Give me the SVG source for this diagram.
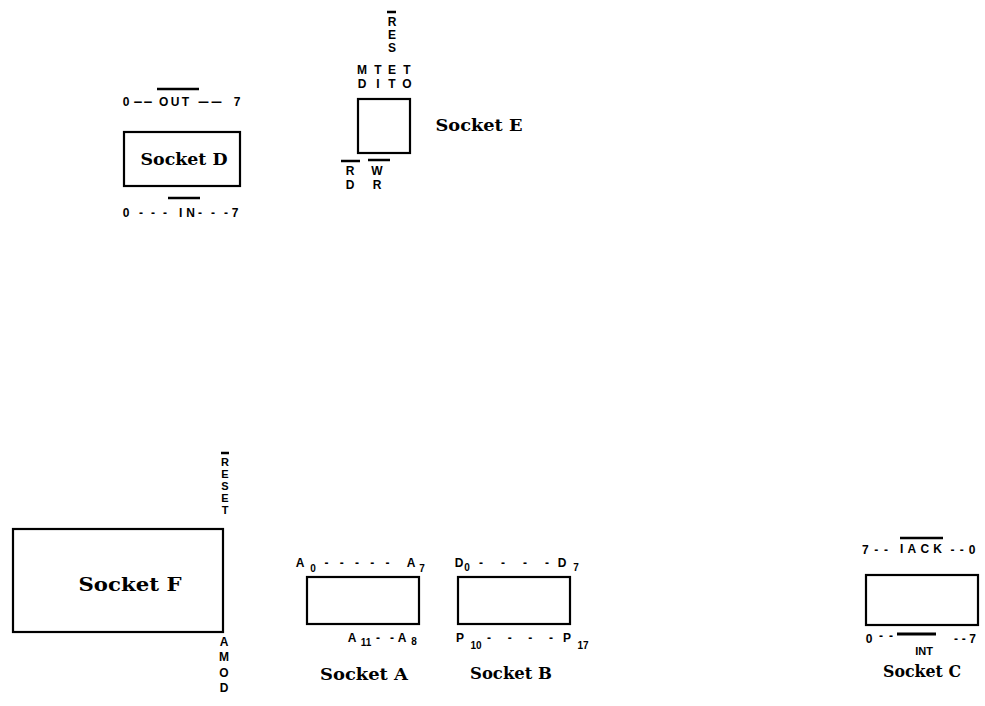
<svg xmlns="http://www.w3.org/2000/svg" width="985" height="706" viewBox="0 0 985 706">
<style>
.box{fill:#fff;stroke:#000;stroke-width:2.2}
.lbl{font-family:"DejaVu Serif","Liberation Serif",serif;font-weight:bold;font-size:17px;text-anchor:middle}
.sig{font-family:"Liberation Sans",Arial,sans-serif;font-weight:bold;font-size:12px;text-anchor:middle}
.sm{font-size:11px}
.sub{font-size:10px}
.bar{stroke:#000;stroke-width:2.5;fill:none}
</style>
<rect width="985" height="706" fill="#fff"/>
<g id="connectors"></g>

<g id="socketD">
<rect class="box" x="124" y="132" width="116" height="54"/>
<text class="lbl" x="184" y="165" textLength="87" lengthAdjust="spacingAndGlyphs">Socket D</text>
<text class="sig" x="126" y="106">0</text>
<text class="sig" x="143" y="106" textLength="20" lengthAdjust="spacingAndGlyphs">--</text>
<text class="sig" x="174" y="106" textLength="30" lengthAdjust="spacing">OUT</text>
<text class="sig" x="210" y="106" textLength="26" lengthAdjust="spacingAndGlyphs">--</text>
<text class="sig" x="237" y="106">7</text>
<line class="bar" x1="157" y1="89" x2="199" y2="89"/>
<text class="sig" x="126" y="217">0</text>
<text class="sig" x="153" y="217" textLength="28" lengthAdjust="spacing">---</text>
<text class="sig" x="187" y="217" textLength="16" lengthAdjust="spacing">IN</text>
<text class="sig" x="213" y="217" textLength="30" lengthAdjust="spacing">---</text>
<text class="sig" x="235" y="217">7</text>
<line class="bar" x1="168" y1="198" x2="200" y2="198"/>
</g>

<g id="socketE">
<rect class="box" x="358" y="99" width="52" height="54"/>
<text class="lbl" x="479" y="131" textLength="87" lengthAdjust="spacingAndGlyphs">Socket E</text>
<line class="bar" x1="387" y1="12" x2="396" y2="12"/>
<text class="sig" x="392" y="26">R</text>
<text class="sig" x="392" y="39">E</text>
<text class="sig" x="392" y="52">S</text>
<text class="sig" x="362" y="74">M</text>
<text class="sig" x="378" y="74">T</text>
<text class="sig" x="392" y="74">E</text>
<text class="sig" x="407" y="74">T</text>
<text class="sig" x="362" y="88">D</text>
<text class="sig" x="378" y="88">I</text>
<text class="sig" x="392" y="88">T</text>
<text class="sig" x="407" y="88">O</text>
<line class="bar" x1="341" y1="161" x2="360" y2="161"/>
<text class="sig" x="350" y="175">R</text>
<text class="sig" x="350" y="189">D</text>
<line class="bar" x1="368" y1="160" x2="390" y2="160"/>
<text class="sig" x="377" y="175">W</text>
<text class="sig" x="377" y="189">R</text>
</g>

<g id="socketF">
<rect class="box" x="13" y="529" width="210" height="103"/>
<text class="lbl" x="130" y="591" textLength="103" lengthAdjust="spacingAndGlyphs" style="font-size:19px">Socket F</text>
<line class="bar" x1="221" y1="453" x2="229" y2="453"/>
<text class="sig sm" x="225" y="466">R</text>
<text class="sig sm" x="225" y="478">E</text>
<text class="sig sm" x="225" y="490">S</text>
<text class="sig sm" x="225" y="502">E</text>
<text class="sig sm" x="225" y="514">T</text>
<text class="sig" x="224" y="646">A</text>
<text class="sig" x="224" y="661">M</text>
<text class="sig" x="224" y="677">O</text>
<text class="sig" x="224" y="692">D</text>
</g>

<g id="socketA">
<rect class="box" x="307" y="577" width="112" height="47"/>
<text class="lbl" x="364" y="680" textLength="88" lengthAdjust="spacingAndGlyphs">Socket A</text>
<text class="sig" x="300" y="567">A</text>
<text class="sig sub" x="313" y="572">0</text>
<text class="sig" x="357" y="567" textLength="65" lengthAdjust="spacing">-----</text>
<text class="sig" x="411" y="567">A</text>
<text class="sig sub" x="422" y="572">7</text>
<text class="sig" x="352" y="642">A</text>
<text class="sig sub" x="366" y="646">11</text>
<text class="sig" x="385" y="642" textLength="18" lengthAdjust="spacing">--</text>
<text class="sig" x="402" y="642">A</text>
<text class="sig sub" x="414" y="645">8</text>
</g>

<g id="socketB">
<rect class="box" x="458" y="577" width="112" height="47"/>
<text class="lbl" x="511" y="679" textLength="82" lengthAdjust="spacingAndGlyphs">Socket B</text>
<text class="sig" x="459" y="567">D</text>
<text class="sig sub" x="467" y="571">0</text>
<text class="sig" x="514" y="567" textLength="70" lengthAdjust="spacing">----</text>
<text class="sig" x="562" y="567">D</text>
<text class="sig sub" x="576" y="571">7</text>
<text class="sig" x="460" y="642">P</text>
<text class="sig sub" x="476" y="649">10</text>
<text class="sig" x="520" y="642" textLength="66" lengthAdjust="spacing">----</text>
<text class="sig" x="567" y="642">P</text>
<text class="sig sub" x="583" y="649">17</text>
</g>

<g id="socketC">
<rect class="box" x="866" y="575" width="112" height="50"/>
<text class="lbl" x="922" y="677" textLength="78" lengthAdjust="spacingAndGlyphs">Socket C</text>
<text class="sig" x="875" y="554" textLength="26" lengthAdjust="spacing">7--</text>
<text class="sig" x="921" y="553" textLength="42" lengthAdjust="spacing">IACK</text>
<text class="sig" x="963" y="554" textLength="25" lengthAdjust="spacing">--0</text>
<line class="bar" x1="900" y1="538" x2="943" y2="538"/>
<text class="sig" x="869" y="643">0</text>
<text class="sig" x="886" y="640" textLength="14" lengthAdjust="spacing">--</text>
<line class="bar" x1="897" y1="634" x2="936" y2="634" style="stroke-width:3"/>
<text class="sig" x="965" y="643" textLength="22" lengthAdjust="spacing">--7</text>
<text class="sig" x="924" y="655" style="font-size:11px">INT</text>
</g>
</svg>
